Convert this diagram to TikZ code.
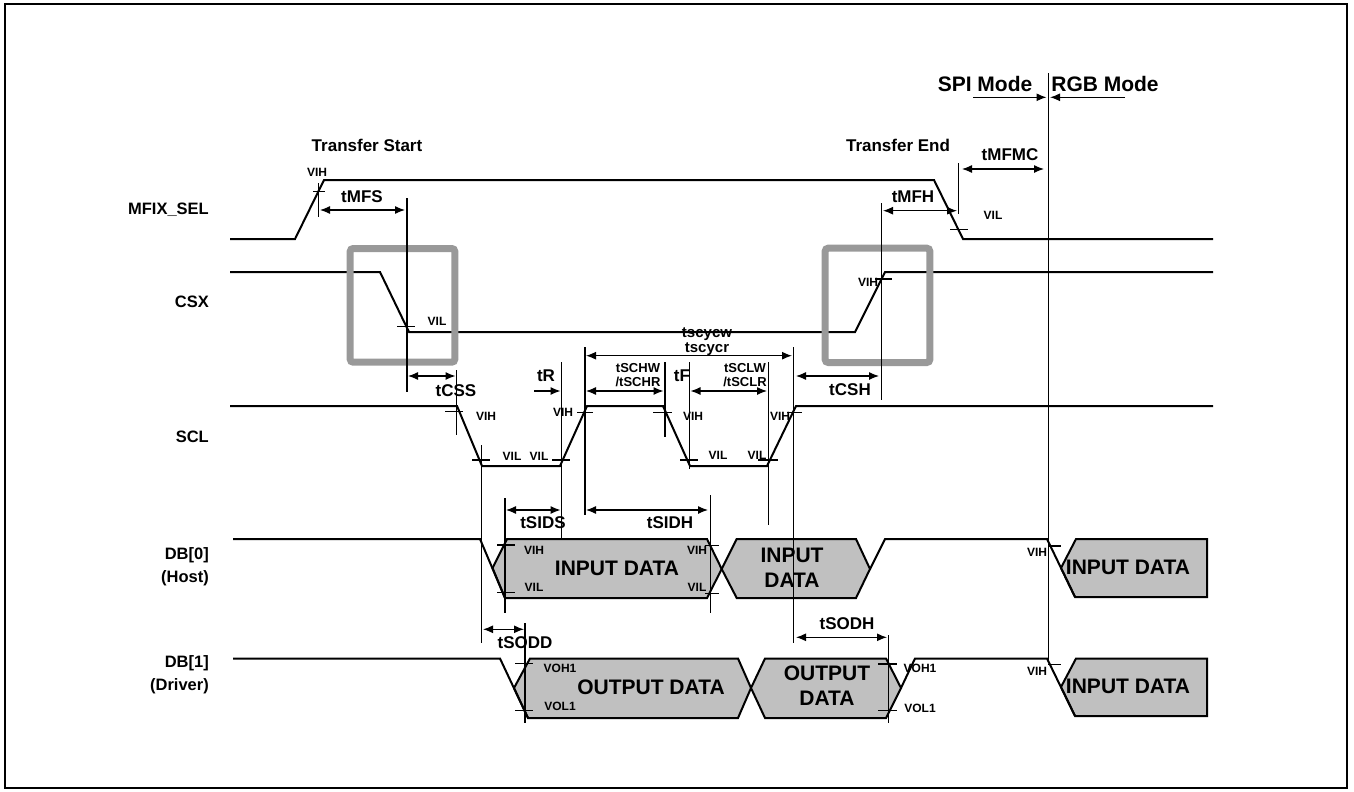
\documentclass[tikz,border=0pt]{standalone}
\usepackage{fontspec}
\setmainfont{Liberation Sans}
\usetikzlibrary{arrows.meta}

\definecolor{boxgray}{RGB}{153,153,153}
\definecolor{datagray}{RGB}{192,192,192}

\tikzset{
  wave/.style={line width=2pt, line join=miter},
  guide/.style={line width=1.2pt},
  dim/.style={guide, {Latex[length=10pt,width=8pt]}-{Latex[length=10pt,width=8pt]}},
  onedim/.style={guide, -{Latex[length=10pt,width=8pt]}},
  cbox/.style={draw=boxgray, line width=7pt, rounded corners=3pt},
  datab/.style={wave, fill=datagray},
  sig/.style={font=\fontsize{16.5}{23}\bfseries\selectfont, anchor=east, inner sep=0pt, align=right},
  tim/.style={font=\fontsize{17}{17}\bfseries\selectfont, inner sep=0pt},
  cyc/.style={font=\fontsize{15}{15}\bfseries\selectfont, inner sep=0pt, anchor=base},
  sml/.style={font=\fontsize{13}{14}\bfseries\selectfont, inner sep=0pt},
  lvl/.style={font=\fontsize{12}{12}\bfseries\selectfont, inner sep=0pt},
  big/.style={font=\fontsize{21}{25}\bfseries\selectfont, inner sep=0pt, align=center},
}

\begin{document}
\begin{tikzpicture}[x=1pt, y=-1pt]
  \useasboundingbox (0,0) rectangle (1354,792);

  % 外框
  \draw[line width=2.5pt] (5,4) rectangle (1347,788);

  % 信号名
  \node[sig] (mfixname) at (209,210) {MFIX\_SEL};
  \node[sig] (csxname) at (209,302) {CSX};
  \node[sig] (sclname) at (209,437) {SCL};
  \node[sig] (dbzname) at (209,566.5) {DB[0]\\(Host)};
  \node[sig] (dbonename) at (209,675) {DB[1]\\(Driver)};

  % 波形
  \draw[wave] (230,239) -- (295,239) -- (324,180) -- (934,180) -- (963,239) -- (1213,239);
  \draw[wave] (230,272) -- (380,272) -- (409,332) -- (855,332) -- (885,272) -- (1213,272);
  \draw[wave] (230,406) -- (457,406) -- (482,466) -- (560,466) -- (587,406) -- (663,406)
    -- (690,466) -- (767,466) -- (796,406) -- (1213,406);

  % DB[0] 数据
  \filldraw[datab] (492.5,568) -- (507,539) -- (707,539) -- (721.7,569) -- (707,598) -- (505,598) -- cycle;
  \filldraw[datab] (721.7,569) -- (736.7,539) -- (856,539) -- (870,569) -- (856,598) -- (736.7,598) -- cycle;
  \filldraw[datab] (1061,568) -- (1076,539) -- (1207,539) -- (1207,597) -- (1075,597) -- cycle;
  \draw[wave] (233,539) -- (480,539) -- (505,598);
  \draw[wave] (870,569) -- (885,539) -- (1047,539) -- (1075,597);

  % DB[1] 数据
  \filldraw[datab] (514,688) -- (530,658.5) -- (738,658.5) -- (751,688) -- (738,718) -- (528,718) -- cycle;
  \filldraw[datab] (751,688) -- (765,658.5) -- (886,658.5) -- (901,688) -- (886,718) -- (765,718) -- cycle;
  \filldraw[datab] (1061,687) -- (1076,658.5) -- (1207,658.5) -- (1207,716) -- (1075,716) -- cycle;
  \draw[wave] (233,658.5) -- (500,658.5) -- (528,718);
  \draw[wave] (901,688) -- (915,658.5) -- (1047,658.5) -- (1075,716);

  % 灰框
  \draw[cbox] (350.2,248.5) rectangle (454.8,362.2);
  \draw[cbox] (825.2,248.2) rectangle (929.8,362.5);

  % 竖直参考线
  \foreach \x/\a/\b in {318.3/183/217, 407/198/392, 456.7/370/435, 481.7/445/643,
      505/498/613, 561.7/362/540, 585/347/515, 665/362/437, 689.3/362/469,
      710.7/495/613, 768.5/362/525, 793.3/347/643, 525/623/723, 888.3/635/723,
      881.7/203/400, 958.3/163/214, 1048.3/73/660}
    \draw[guide] (\x,\a) -- (\x,\b);

  % 电平刻度
  \foreach \y/\a/\b in {191.7/313/325, 229.3/950/968, 326.7/397/415, 279/875/892,
      411.7/445/463, 460/472/490, 460/552/570, 412.3/577/593, 412.7/653/672,
      460/680/698, 460/758/778, 412.3/787/802,
      545/497/515, 592.7/497/515, 545.7/705/719, 593.3/705/719, 546/1048/1061,
      663.3/515/533, 710.7/515/533, 664/878/897, 710.7/878/897, 664.3/1048/1061}
    \draw[guide] (\a,\y) -- (\b,\y);

  % 时间标注
  \draw[dim] (320,210) -- (405,210);
  \draw[dim] (883,210.7) -- (957,210.7);
  \draw[dim] (962,169) -- (1044,169);
  \draw[dim] (408,376) -- (455.5,376);
  \draw[dim] (796,376) -- (879,376);
  \draw[dim] (586,355.7) -- (792,355.7);
  \draw[dim] (586,391) -- (663.5,391);
  \draw[dim] (690.5,391) -- (767,391);
  \draw[dim] (506,510) -- (560.5,510);
  \draw[dim] (586,510) -- (708,510);
  \draw[dim] (483,629.3) -- (524,629.3);
  \draw[dim] (796,637.3) -- (887,637.3);
  \draw[onedim] (534,391) -- (560.5,391);
  \draw[onedim] (973,97.3) -- (1046.5,97.3);
  \draw[onedim] (1125,97.3) -- (1050,97.3);

  % 文字
  \node[tim] (tstart) at (367,145) {Transfer Start};
  \node[tim] (tend) at (898,145) {Transfer End};
  \node[big] (spi) at (985,84) {SPI Mode};
  \node[big] (rgb) at (1105,83.5) {RGB Mode};

  \node[tim] (tmfs) at (362,197) {tMFS};
  \node[tim] (tmfh) at (913,197) {tMFH};
  \node[tim] (tmfmc) at (1010,155) {tMFMC};
  \node[tim] (tcss) at (456,391) {tCSS};
  \node[tim] (tr) at (546,376) {tR};
  \node[tim] (tf) at (682,376) {tF};
  \node[tim] (tcsh) at (850,390) {tCSH};
  \node[tim] (tsids) at (543,523) {tSIDS};
  \node[tim] (tsidh) at (670,523) {tSIDH};
  \node[tim] (tsodd) at (525,643) {tSODD};
  \node[tim] (tsodh) at (847,624) {tSODH};
  \node[cyc] (tcycw) at (707,337.5) {tscycw};
  \node[cyc] (tcycr) at (707,352) {tscycr};
  \node[sml] (tschw) at (638,368) {tSCHW};
  \node[sml] (tschr) at (638,382) {/tSCHR};
  \node[sml] (tsclw) at (745,368) {tSCLW};
  \node[sml] (tsclr) at (745,382) {/tSCLR};

  % 电平文字
  \node[lvl] (mvih) at (317,172) {VIH};
  \node[lvl] (mvil) at (993,215) {VIL};
  \node[lvl] (cvil) at (437,321) {VIL};
  \node[lvl] (cvih) at (868,282) {VIH};
  \node[lvl] (svih1) at (486,416) {VIH};
  \node[lvl] (svil1) at (512,456) {VIL};
  \node[lvl] (svil2) at (539,456) {VIL};
  \node[lvl] (svih2) at (563,412) {VIH};
  \node[lvl] (svih3) at (693,416) {VIH};
  \node[lvl] (svil3) at (718,455) {VIL};
  \node[lvl] (svil4) at (757,455) {VIL};
  \node[lvl] (svih4) at (780,416) {VIH};
  \node[lvl] (dvih1) at (534,550) {VIH};
  \node[lvl] (dvil1) at (534,587) {VIL};
  \node[lvl] (dvih2) at (697,550) {VIH};
  \node[lvl] (dvil2) at (697,587) {VIL};
  \node[lvl] (dvih3) at (1037,552) {VIH};
  \node[lvl] (ovoh1) at (560,668) {VOH1};
  \node[lvl] (ovol1) at (560,706) {VOL1};
  \node[lvl] (ovoh2) at (920,668) {VOH1};
  \node[lvl] (ovol2) at (920,708) {VOL1};
  \node[lvl] (ovih) at (1037,671) {VIH};

  % 数据文字
  \node[big] (in1) at (617,568) {INPUT DATA};
  \node[big] (in2) at (792,568) {INPUT\\DATA};
  \node[big] (in3) at (1128,567) {INPUT DATA};
  \node[big] (out1) at (651,687) {OUTPUT DATA};
  \node[big] (out2) at (827,686) {OUTPUT\\DATA};
  \node[big] (in4) at (1128,686) {INPUT DATA};

\end{tikzpicture}
\end{document}
